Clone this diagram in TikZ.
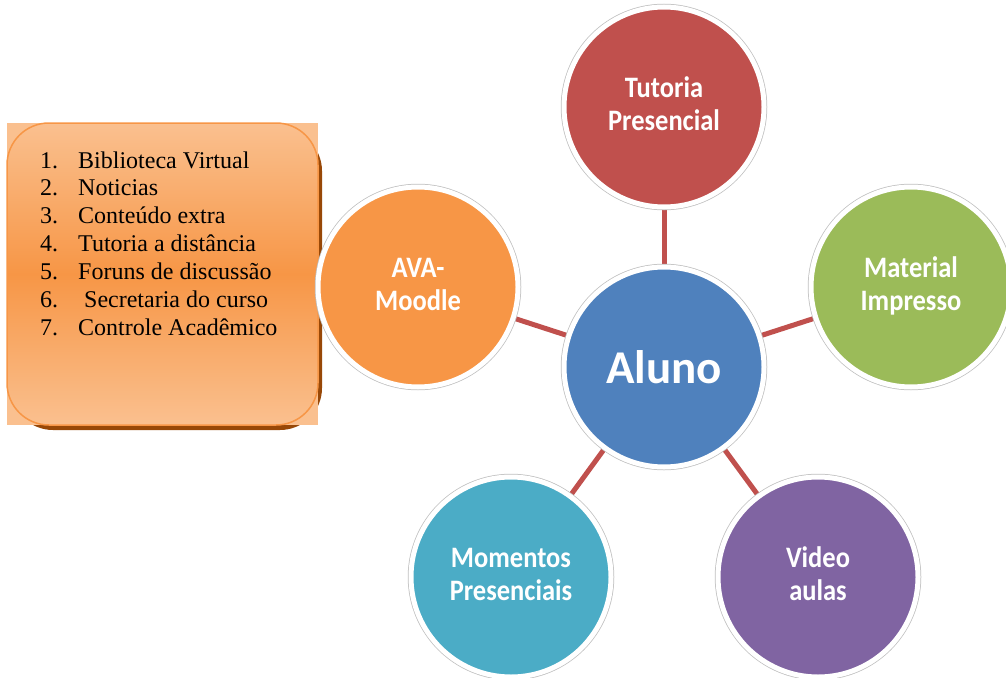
\documentclass[tikz,border=0pt]{standalone}
\usepackage{fontspec}
\setmainfont{Liberation Serif}
\newfontfamily\cali{Carlito}
\usetikzlibrary{backgrounds}
\definecolor{ctut}{HTML}{C0504D}
\definecolor{cmat}{HTML}{9BBB59}
\definecolor{cvid}{HTML}{8064A2}
\definecolor{cmom}{HTML}{4BACC6}
\definecolor{cava}{HTML}{F79646}
\definecolor{calu}{HTML}{4F81BD}
\definecolor{boxlight}{HTML}{FAC08F}
\definecolor{boxmid}{HTML}{F79646}
\definecolor{boxshadow}{HTML}{984807}
\definecolor{ringgray}{HTML}{BFBFBF}
\newcommand\twolbl[2]{\scalebox{1}[1.12]{\begin{tabular}{@{}c@{}}#1\\#2\end{tabular}}}
\tikzset{
  bubble/.style={circle, inner sep=0pt, minimum size=200pt, fill=#1,
    preaction={draw=ringgray, line width=6.5pt},
    draw=white, line width=5pt, text=white, align=center,
    font=\cali\bfseries\fontsize{26.5}{29.5}\selectfont},
  conn/.style={draw=ctut, line width=5pt},
  listtext/.style={font=\fontsize{24}{27.9}\selectfont, anchor=base west, inner sep=0pt, align=left}
}
\begin{document}
\begin{tikzpicture}[x=1pt,y=-1pt]
\useasboundingbox (0,0) rectangle (1006,677);
% list box
\fill[boxshadow] (11,129) [rounded corners=42pt] rectangle (322,430);
\fill[boxlight] (7,123) rectangle (318,425);
\shade[top color=boxlight, bottom color=boxlight, middle color=boxmid, draw=boxmid, line width=1.5pt, rounded corners=42pt]
  (7,123) rectangle (318,425);
\node[listtext] (list) at (40,168) {%
\begin{tabular}[t]{@{}l@{\hspace{20pt}}l@{}}
1. & Biblioteca Virtual\\
2. & Noticias\\
3. & Conteúdo extra\\
4. & Tutoria a distância\\
5. & Foruns de discussão\\
6. & \hspace{6pt}Secretaria do curso\\
7. & Controle Acadêmico
\end{tabular}};
% circles
\node[bubble=calu, font=\cali\bfseries\fontsize{47}{50}\selectfont] (alu) at (664,367) {Aluno};
\node[bubble=ctut] (tut) at (664,107) {\twolbl{Tutoria}{Presencial}};
\node[bubble=cmat] (mat) at (911,287) {\twolbl{Material}{Impresso}};
\node[bubble=cvid] (vid) at (818,577) {\twolbl{Video}{aulas}};
\node[bubble=cmom] (mom) at (511,577) {\twolbl{Momentos}{Presenciais}};
\node[bubble=cava] (ava) at (418,287) {\twolbl{AVA-}{Moodle}};
\begin{scope}[on background layer]
\draw[conn] (alu.center) -- (tut.center);
\draw[conn] (alu.center) -- (mat.center);
\draw[conn] (alu.center) -- (vid.center);
\draw[conn] (alu.center) -- (mom.center);
\draw[conn] (alu.center) -- (ava.center);
\end{scope}
\end{tikzpicture}
\end{document}
